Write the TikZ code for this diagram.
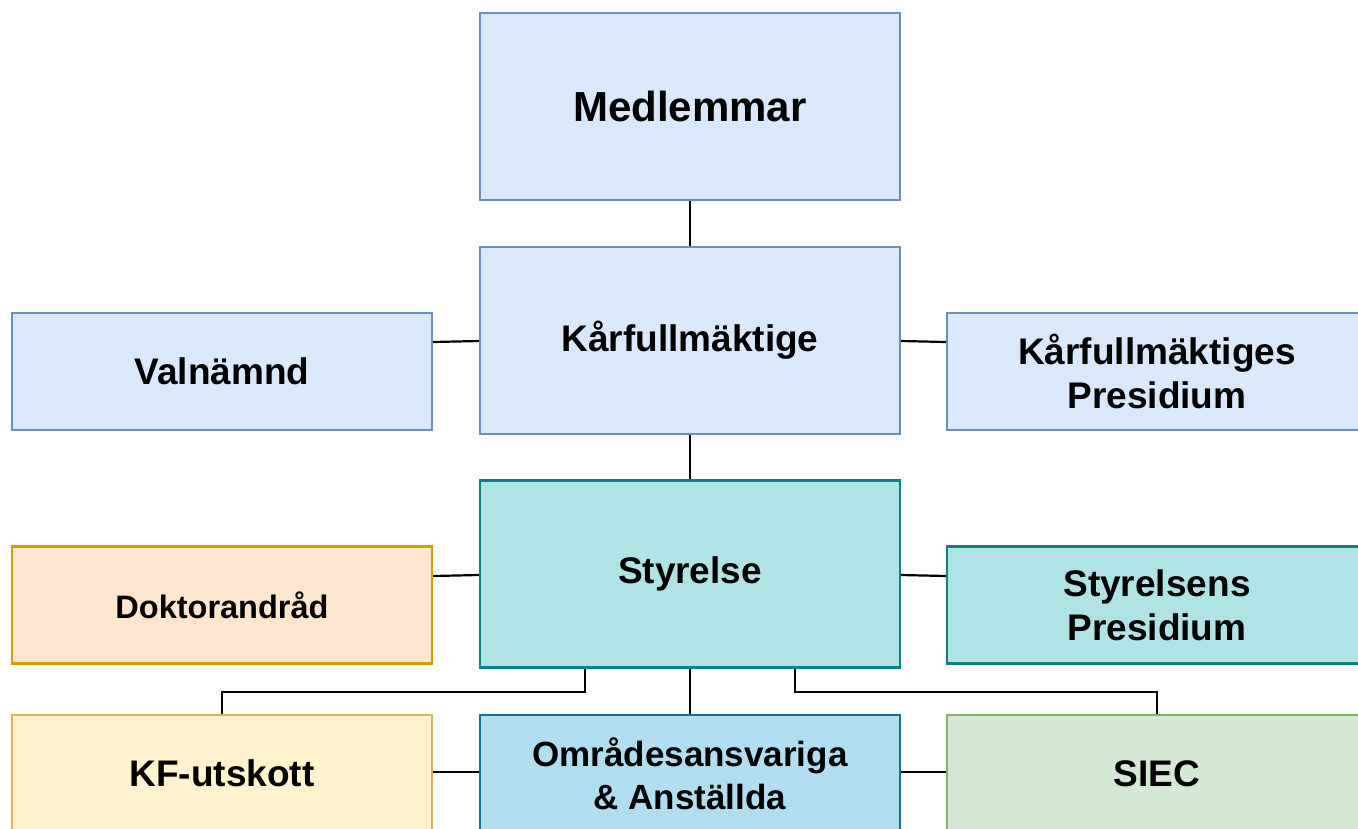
\documentclass[tikz,border=0pt]{standalone}
\usepackage{fontspec}
\setmainfont{Liberation Sans}
\definecolor{bfill}{HTML}{DAE8FC}\definecolor{bline}{HTML}{6C8EBF}
\definecolor{tfill}{HTML}{B0E3E6}\definecolor{tline}{HTML}{0E8088}
\definecolor{ofill}{HTML}{FFE6CC}\definecolor{oline}{HTML}{D79B00}
\definecolor{yfill}{HTML}{FFF2CC}\definecolor{yline}{HTML}{D6B656}
\definecolor{cfill}{HTML}{B1DDF0}\definecolor{cline}{HTML}{10739E}
\definecolor{gfill}{HTML}{D5E8D4}\definecolor{gline}{HTML}{82B366}
\begin{document}
\begin{tikzpicture}[x=1pt,y=-1pt,
  box/.style={draw, line width=2.2pt, inner sep=0pt, align=center, font=\bfseries\fontsize{37}{44}\selectfont},
  big/.style={box, minimum width=420pt, minimum height=187pt},
  side/.style={box, minimum width=420pt, minimum height=117pt},
  blu/.style={fill=bfill, draw=bline},
  teal/.style={fill=tfill, draw=tline},
  ora/.style={fill=ofill, draw=oline},
  yel/.style={fill=yfill, draw=yline},
  cya/.style={fill=cfill, draw=cline},
  gre/.style={fill=gfill, draw=gline},
  conn/.style={draw=black, line width=2.2pt}]
\path[use as bounding box] (0,0) rectangle (1358,828);
\begin{scope}
\clip (0,0) rectangle (1358,828);
\node[big, blu, font=\bfseries\fontsize{42}{50}\selectfont] (med) at (690,106.5) {Medlemmar};
\node[big, blu] (kf) at (690,340.5) {Kårfullmäktige};
\node[side, blu] (val) at (222,371.5) {Valnämnd};
\node[side, blu] (kfp) at (1157,371.5) {Kårfullmäktiges\\Presidium};
\node[big, teal] (sty) at (690,574) {Styrelse};
\node[side, ora, font=\bfseries\fontsize{32.5}{39}\selectfont] (dok) at (222,605) {Doktorandråd};
\node[side, teal] (stp) at (1157,605) {Styrelsens\\Presidium};
\node[side, yel] (kfu) at (222,773.5) {KF-utskott};
\node[side, cya, font=\bfseries\fontsize{35}{43}\selectfont] (omr) at (690,773.5) {Områdesansvariga\\\& Anställda};
\node[side, gre] (siec) at (1157,773.5) {SIEC};
\coordinate (sl) at (585,692);
\coordinate (sr) at (795,692);
\draw[conn] (med.south) -- (kf.north);
\draw[conn] (val.east |- 0,342) -- (kf.west |- 0,341);
\draw[conn] (kf.east |- 0,341) -- (kfp.west |- 0,342);
\draw[conn] (kf.south) -- (sty.north);
\draw[conn] (dok.east |- 0,576) -- (sty.west |- 0,575);
\draw[conn] (sty.east |- 0,575) -- (stp.west |- 0,576);
\draw[conn] (sty.south -| sl) -- (sl) -| (kfu.north);
\draw[conn] (sty.south -| sr) -- (sr) -| (siec.north);
\draw[conn] (sty.south) -- (omr.north);
\draw[conn] (kfu.east |- 0,772) -- (omr.west |- 0,772);
\draw[conn] (omr.east |- 0,772) -- (siec.west |- 0,772);
\end{scope}
\end{tikzpicture}
\end{document}
